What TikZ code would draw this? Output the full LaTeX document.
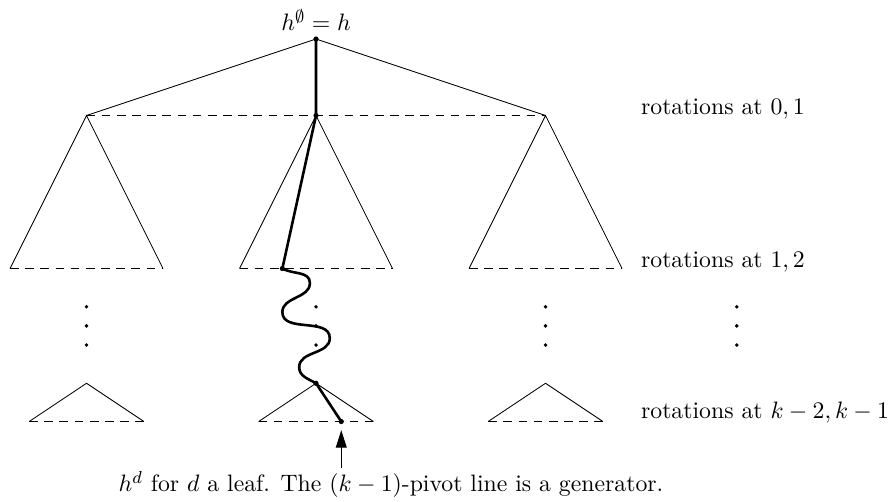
\documentclass[tikz,border=0pt,11pt]{standalone}
\usetikzlibrary{arrows.meta}

\begin{document}
\begin{tikzpicture}[x=1.24cm,y=1.24cm,
  base/.style={dash pattern=on 4pt off 3pt},
  pivot/.style={line width=1.2pt}]

\useasboundingbox (-4.131,-6.039) rectangle (7.529,0.510);

\coordinate (R) at (0,0);
\coordinate (A1) at (-3,-1);
\coordinate (A2) at (0,-1);
\coordinate (A3) at (3,-1);
\coordinate (B) at (-0.44,-3);
\coordinate (C) at (0,-4.5);
\coordinate (D) at (0.33,-5);
\coordinate (E) at (0.33,-5.61);

% wave turning points
\coordinate (W1) at (-0.08,-3.19);
\coordinate (W2) at (-0.44,-3.57);
\coordinate (W3) at (0.18,-3.91);
\coordinate (W4) at (-0.22,-4.29);

% top level
\draw (A1) -- (R) -- (A3);
\draw[base] (A1) -- (A3);

% subtrees
\foreach \x in {-3,0,3} {
  \draw (\x-1,-3) -- (\x,-1) -- (\x+1,-3);
  \draw[base] (\x-1,-3) -- (\x+1,-3);
  \draw (\x-0.75,-5) -- (\x,-4.5) -- (\x+0.75,-5);
  \draw[base] (\x-0.75,-5) -- (\x+0.75,-5);
}

% vertical dots
\foreach \x in {-3,0,3,5.5}
  \foreach \y in {-3.5,-3.75,-4}
    \fill (\x,\y) circle (0.9pt);

% pivot line
\draw[pivot] (R) -- (A2) -- (B);
\draw[pivot] (B) to[out=-30,in=90] (W1) to[out=-90,in=90] (W2)
  to[out=-90,in=90] (W3) to[out=-90,in=90] (W4) to[out=-90,in=150] (C);
\draw[pivot] (C) -- (D);
\foreach \p in {R,A2,B,C,D}
  \fill (\p) circle (1.2pt);

\node[above] (hroot) at (R) {$h^{\emptyset}=h$};
\node[right] (rot1) at (4.14,-0.92) {rotations at $0,1$};
\node[right] (rot2) at (4.14,-2.92) {rotations at $1,2$};
\node[right] (rot3) at (4.14,-4.88) {rotations at $k-2,k-1$};
\node (leaf) at (0.98,-5.82) {$h^d$ for $d$ a leaf. The $(k-1)$-pivot line is a generator.};

\draw[-{Triangle[length=8pt,width=5pt]},shorten >=4pt] (E) -- (D);

\end{tikzpicture}
\end{document}
